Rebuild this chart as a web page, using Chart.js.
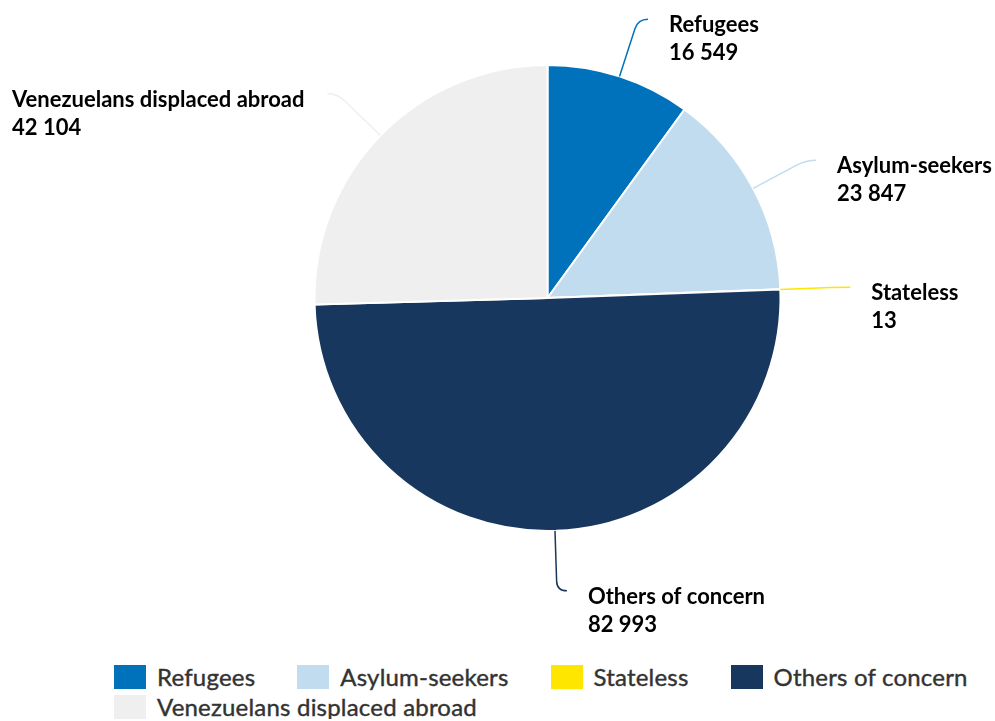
<!DOCTYPE html>
<html>
<head>
<meta charset="utf-8">
<script src="https://cdn.jsdelivr.net/npm/chart.js@4"></script>
<style>
	body { margin: 0; background: #fff; font-family: Lato, sans-serif; }
	#wrap { position: relative; width: 995px; height: 650px; }
	#legend { margin: 15px 0 0 114px; width: 875px; display: flex; flex-wrap: wrap; column-gap: 42px; row-gap: 6px; }
	.item { display: flex; align-items: center; font-size: 24px; line-height: 24px; color: #333; letter-spacing: 0.2px; -webkit-text-stroke: 0.4px #333; }
	.box { width: 32px; height: 24px; margin-right: 11px; }
</style>
</head>
<body>
<div id="wrap"><canvas id="chart" width="995" height="650"></canvas></div>
<div id="legend"></div>
<script>
const categories = ["Refugees", "Asylum-seekers", "Stateless", "Others of concern", "Venezuelans displaced abroad"];
const values = [16549, 23847, 13, 82993, 42104];
const colors = ["#0072BC", "#C1DCEF", "#FFE600", "#18375F", "#EFEFEF"];

function fmt(v) {
	return String(v).replace(/\B(?=(\d{3})+(?!\d))/g, " ");
}

const outsideLabels = {
	id: "outsideLabels",
	afterDatasetsDraw(chart) {
		const ctx = chart.ctx;
		const meta = chart.getDatasetMeta(0);
		meta.data.forEach((arc, i) => {
			const p = arc.getProps(["x", "y", "startAngle", "endAngle", "outerRadius"], true);
			const mid = (p.startAngle + p.endAngle) / 2;
			const cos = Math.cos(mid), sin = Math.sin(mid);
			const side = cos >= 0 ? 1 : -1;
			const x0 = p.x + cos * p.outerRadius, y0 = p.y + sin * p.outerRadius;
			const x1 = p.x + cos * (p.outerRadius + 60), y1 = p.y + sin * (p.outerRadius + 60);
			const x2 = x1 + side * 10, y2 = y1;

			ctx.save();
			ctx.strokeStyle = colors[i];
			ctx.lineWidth = 1.5;
			ctx.beginPath();
			ctx.moveTo(x0, y0);
			ctx.lineTo(x1 - cos * 10, y1 - sin * 10);
			ctx.quadraticCurveTo(x1, y1, x2, y2);
			ctx.stroke();

			ctx.font = "bold 22px Lato";
			ctx.fillStyle = "#000";
			ctx.textAlign = "left";
			ctx.textBaseline = "alphabetic";
			const l1 = categories[i], l2 = fmt(values[i]);
			let tx = x2 + 21;
			if (side < 0) {
				const w = Math.max(ctx.measureText(l1).width, ctx.measureText(l2).width);
				tx = x2 - 23 - w;
			}
			ctx.fillText(l1, tx, y2 + 13);
			ctx.fillText(l2, tx, y2 + 41);
			ctx.restore();
		});
	}
};

new Chart(document.getElementById("chart"), {
	type: "pie",
	data: {
		labels: categories,
		datasets: [{
			data: values,
			backgroundColor: colors,
			borderColor: "#fff",
			borderWidth: 2
		}]
	},
	options: {
		responsive: false,
		animation: false,
		layout: { padding: { left: 100, top: 64, bottom: 118, right: 0 } },
		plugins: {
			legend: { display: false },
			tooltip: { enabled: false }
		}
	},
	plugins: [outsideLabels]
});

const legend = document.getElementById("legend");
categories.forEach((c, i) => {
	const item = document.createElement("div");
	item.className = "item";
	item.innerHTML = '<span class="box" style="background:' + colors[i] + '"></span>' + c;
	legend.appendChild(item);
});
</script>
</body>
</html>
